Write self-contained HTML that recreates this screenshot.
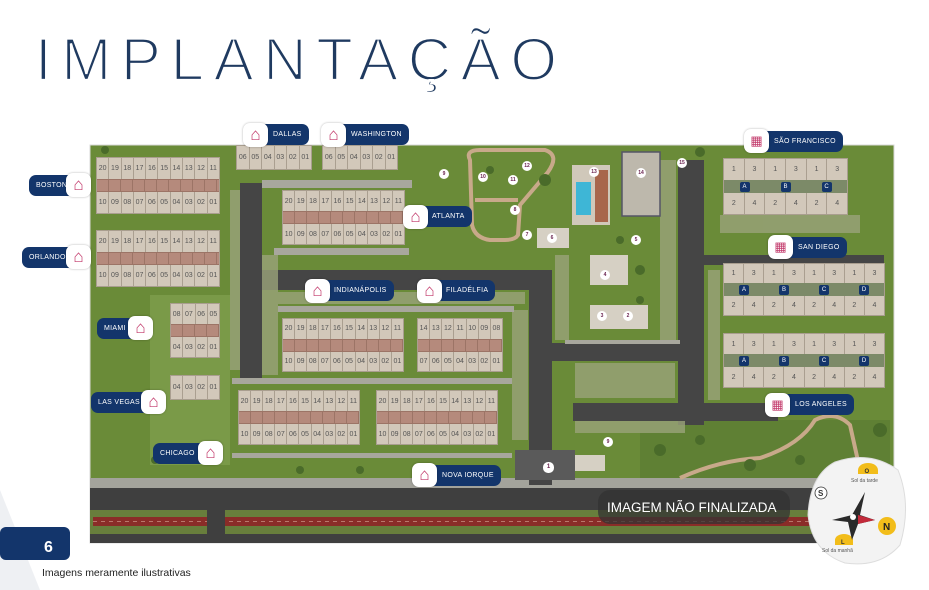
<!DOCTYPE html><html><head><meta charset="utf-8"><style>
*{margin:0;padding:0;box-sizing:border-box}
body{width:929px;height:590px;background:#fff;position:relative;overflow:hidden;font-family:"Liberation Sans",sans-serif}
.a{position:absolute}
.b{position:absolute;background:#d2c8ba;display:flex;flex-direction:column;border:1px solid #a99e8f}
.r{display:flex;flex:1}
.r span{flex:1;border-right:1px solid #aa9f90;font-size:7px;color:#555;display:flex;align-items:center;justify-content:center}
.r span:last-child{border-right:none}
.s{height:13px;background:repeating-linear-gradient(90deg,#b58a7c 0 11px,#9c7466 11px 12px);border-top:1px solid #9c7466;border-bottom:1px solid #9c7466}
.g{height:13px;background:#7c8a68;display:flex;justify-content:space-around;align-items:center}
.g i{font-style:normal;background:#13356b;color:#fff;font-size:6px;width:10px;height:10px;display:flex;align-items:center;justify-content:center;border-radius:2px}
.p{position:absolute;background:#13356b;color:#fff;font-size:7px;height:21px;line-height:21px;border-radius:7px;padding:0 7px;letter-spacing:.3px;white-space:nowrap}
.ic{position:absolute;width:25px;height:24px;background:#fff;border-radius:7px;color:#c2386a;font-size:17px;line-height:24px;text-align:center;box-shadow:0 0 2px rgba(0,0,0,.3)}
.n{position:absolute;width:10px;height:10px;border-radius:5px;background:#fff;color:#6a2350;font-size:5px;line-height:10px;text-align:center;font-weight:bold}
</style></head><body>
<svg class="a" style="left:0;top:0" width="929" height="590">
<polygon points="0,490 40,590 0,590" fill="#eef0f3"/>
<text x="35" y="80" font-size="60" fill="#1f3a60" stroke="#fff" stroke-width="2.2" textLength="522" lengthAdjust="spacing" font-family="Liberation Sans">IMPLANTAÇÃO</text>
<rect x="90" y="145" width="804" height="398" fill="#6a8b38"/>
<rect x="90" y="145" width="804" height="398" fill="none" stroke="#d9d9d9"/>
<rect x="150" y="295" width="80" height="170" fill="#7a9a48"/>
<rect x="640" y="420" width="250" height="60" fill="#5f8034"/>
<rect x="90" y="478" width="804" height="10" fill="#a3a39b"/>
<rect x="90" y="488" width="804" height="55" fill="#3f3f3f"/>
<rect x="90" y="510" width="804" height="24" fill="#687e3c"/>
<rect x="93" y="517" width="114" height="9" fill="#8a2c28"/>
<rect x="225" y="517" width="585" height="9" fill="#8a2c28"/>
<line x1="93" y1="521.5" x2="810" y2="521.5" stroke="#e7c2b0" stroke-width="0.6" stroke-dasharray="4 4"/>
<rect x="207" y="510" width="18" height="24" fill="#3f3f3f"/>
<rect x="240" y="183" width="22" height="195" fill="#454545"/>
<rect x="240" y="270" width="312" height="20" fill="#454545"/>
<rect x="529" y="270" width="23" height="215" fill="#454545"/>
<rect x="552" y="343" width="150" height="18" fill="#454545"/>
<rect x="678" y="160" width="26" height="265" fill="#454545"/>
<rect x="573" y="403" width="205" height="18" fill="#454545"/>
<rect x="704" y="255" width="180" height="10" fill="#454545"/>
<rect x="515" y="450" width="60" height="30" fill="#5a5a5a"/>
<g fill="#9aa37a" opacity=".8">
<rect x="262" y="255" width="16" height="120"/><rect x="265" y="292" width="260" height="12"/>
<rect x="512" y="310" width="16" height="130"/><rect x="555" y="255" width="14" height="85"/>
<rect x="575" y="363" width="100" height="35"/><rect x="660" y="160" width="16" height="180"/>
<rect x="708" y="270" width="12" height="130"/><rect x="720" y="215" width="140" height="18"/>
<rect x="575" y="421" width="110" height="12"/><rect x="230" y="190" width="10" height="180"/>
</g>
<g fill="#a8a79d">
<rect x="262" y="180" width="150" height="8"/><rect x="274" y="248" width="135" height="7"/>
<rect x="278" y="306" width="236" height="6"/><rect x="232" y="378" width="280" height="6"/>
<rect x="232" y="453" width="280" height="5"/><rect x="565" y="340" width="115" height="4"/>
</g>
<path d="M470 160 Q465 150 480 150 L545 150 Q560 155 548 172 L520 205 L518 235 Q515 240 505 240 L490 240 Q475 238 472 225 L470 160 Z" fill="none" stroke="#c8a98a" stroke-width="4"/>
<line x1="475" y1="200" x2="518" y2="200" stroke="#c8a98a" stroke-width="4"/>
<path d="M680 478 Q720 460 760 458 Q800 445 815 420 Q835 410 850 425 L860 470" fill="none" stroke="#c8a98a" stroke-width="4"/>
<rect x="572" y="165" width="38" height="60" fill="#d0c8ba"/><rect x="576" y="182" width="15" height="33" fill="#3eb6d6"/><rect x="595" y="170" width="13" height="52" fill="#a8664c"/>
<rect x="622" y="152" width="38" height="64" fill="#bdb8ac" stroke="#556" stroke-width="1.5"/>
<rect x="537" y="228" width="32" height="20" fill="#d6d0c4"/>
<rect x="590" y="255" width="38" height="30" fill="#d6d0c4"/>
<rect x="590" y="305" width="58" height="24" fill="#d6d0c4"/>
<rect x="575" y="455" width="30" height="16" fill="#d6d0c4"/>
<g fill="#4a6b2a">
<circle cx="105" cy="150" r="4"/><circle cx="700" cy="152" r="5"/><circle cx="860" cy="360" r="5"/><circle cx="880" cy="430" r="7"/>
<circle cx="750" cy="465" r="6"/><circle cx="800" cy="460" r="5"/><circle cx="660" cy="450" r="6"/><circle cx="700" cy="440" r="5"/>
<circle cx="620" cy="240" r="4"/><circle cx="640" cy="270" r="5"/><circle cx="640" cy="300" r="4"/><circle cx="545" cy="180" r="6"/>
<circle cx="490" cy="170" r="4"/><circle cx="155" cy="460" r="4"/><circle cx="300" cy="470" r="4"/><circle cx="360" cy="470" r="4"/>
</g>
<rect x="598" y="490" width="192" height="34" rx="12" fill="#333" opacity=".75"/>
<text x="607" y="512" font-size="13.5" fill="#fff" font-family="Liberation Sans">IMAGEM NÃO FINALIZADA</text>
<path d="M835 462 Q870 450 898 470 Q912 505 900 545 Q880 568 845 563 Q812 552 808 515 Q810 475 835 462 Z" fill="#f3f3f3" stroke="#ddd"/>
<path d="M858 470 A10 7 0 0 1 878 470 L878 474 L858 474 Z" fill="#f2bd1a"/><text x="864.5" y="473" font-size="6" font-weight="bold" fill="#333">O</text>
<text x="851" y="482" font-size="5" fill="#555">Sol da tarde</text>
<circle cx="821" cy="493" r="6" fill="#fff" stroke="#333" stroke-width=".8"/><text x="818" y="496" font-size="8" font-weight="bold" fill="#333">S</text>
<circle cx="887" cy="526" r="9" fill="#f2bd1a"/><text x="883" y="530" font-size="10" font-weight="bold" fill="#222">N</text>
<path d="M835 540 A9 6 0 0 1 853 540 L853 545 L835 545 Z" fill="#f2bd1a"/><text x="841" y="544" font-size="6" font-weight="bold" fill="#333">L</text>
<text x="822" y="552" font-size="5" fill="#555">Sol da manhã</text>
<polygon points="852,515 865,492 860,515 875,520 858,524 852,540 848,522 832,520" fill="#2a2a2a"/>
<polygon points="858,515 875,520 858,524" fill="#c22a3a"/>
<circle cx="853" cy="517" r="3" fill="#fff"/>
<rect x="0" y="527" width="70" height="33" rx="6" fill="#13356b"/>
<text x="44" y="552" font-size="16" font-weight="bold" fill="#fff">6</text>
<text x="42" y="576" font-size="10.5" fill="#222">Imagens meramente ilustrativas</text>
</svg>

<div class="b" style="left:96px;top:157px;width:124px;height:57px"><div class="r"><span>20</span><span>19</span><span>18</span><span>17</span><span>16</span><span>15</span><span>14</span><span>13</span><span>12</span><span>11</span></div><div class="s"></div><div class="r"><span>10</span><span>09</span><span>08</span><span>07</span><span>06</span><span>05</span><span>04</span><span>03</span><span>02</span><span>01</span></div></div>
<div class="b" style="left:96px;top:230px;width:124px;height:57px"><div class="r"><span>20</span><span>19</span><span>18</span><span>17</span><span>16</span><span>15</span><span>14</span><span>13</span><span>12</span><span>11</span></div><div class="s"></div><div class="r"><span>10</span><span>09</span><span>08</span><span>07</span><span>06</span><span>05</span><span>04</span><span>03</span><span>02</span><span>01</span></div></div>
<div class="b" style="left:236px;top:145px;width:76px;height:25px"><div class="r"><span>06</span><span>05</span><span>04</span><span>03</span><span>02</span><span>01</span></div></div>
<div class="b" style="left:322px;top:145px;width:76px;height:25px"><div class="r"><span>06</span><span>05</span><span>04</span><span>03</span><span>02</span><span>01</span></div></div>
<div class="b" style="left:282px;top:190px;width:123px;height:55px"><div class="r"><span>20</span><span>19</span><span>18</span><span>17</span><span>16</span><span>15</span><span>14</span><span>13</span><span>12</span><span>11</span></div><div class="s"></div><div class="r"><span>10</span><span>09</span><span>08</span><span>07</span><span>06</span><span>05</span><span>04</span><span>03</span><span>02</span><span>01</span></div></div>
<div class="b" style="left:170px;top:303px;width:50px;height:55px"><div class="r"><span>08</span><span>07</span><span>06</span><span>05</span></div><div class="s"></div><div class="r"><span>04</span><span>03</span><span>02</span><span>01</span></div></div>
<div class="b" style="left:170px;top:375px;width:50px;height:25px"><div class="r"><span>04</span><span>03</span><span>02</span><span>01</span></div></div>
<div class="b" style="left:282px;top:318px;width:122px;height:54px"><div class="r"><span>20</span><span>19</span><span>18</span><span>17</span><span>16</span><span>15</span><span>14</span><span>13</span><span>12</span><span>11</span></div><div class="s"></div><div class="r"><span>10</span><span>09</span><span>08</span><span>07</span><span>06</span><span>05</span><span>04</span><span>03</span><span>02</span><span>01</span></div></div>
<div class="b" style="left:417px;top:318px;width:86px;height:54px"><div class="r"><span>14</span><span>13</span><span>12</span><span>11</span><span>10</span><span>09</span><span>08</span></div><div class="s"></div><div class="r"><span>07</span><span>06</span><span>05</span><span>04</span><span>03</span><span>02</span><span>01</span></div></div>
<div class="b" style="left:238px;top:390px;width:122px;height:55px"><div class="r"><span>20</span><span>19</span><span>18</span><span>17</span><span>16</span><span>15</span><span>14</span><span>13</span><span>12</span><span>11</span></div><div class="s"></div><div class="r"><span>10</span><span>09</span><span>08</span><span>07</span><span>06</span><span>05</span><span>04</span><span>03</span><span>02</span><span>01</span></div></div>
<div class="b" style="left:376px;top:390px;width:122px;height:55px"><div class="r"><span>20</span><span>19</span><span>18</span><span>17</span><span>16</span><span>15</span><span>14</span><span>13</span><span>12</span><span>11</span></div><div class="s"></div><div class="r"><span>10</span><span>09</span><span>08</span><span>07</span><span>06</span><span>05</span><span>04</span><span>03</span><span>02</span><span>01</span></div></div>
<div class="b" style="left:723px;top:158px;width:125px;height:57px"><div class="r"><span>1</span><span>3</span><span>1</span><span>3</span><span>1</span><span>3</span></div><div class="g"><i>A</i><i>B</i><i>C</i></div><div class="r"><span>2</span><span>4</span><span>2</span><span>4</span><span>2</span><span>4</span></div></div>
<div class="b" style="left:723px;top:263px;width:162px;height:53px"><div class="r"><span>1</span><span>3</span><span>1</span><span>3</span><span>1</span><span>3</span><span>1</span><span>3</span></div><div class="g"><i>A</i><i>B</i><i>C</i><i>D</i></div><div class="r"><span>2</span><span>4</span><span>2</span><span>4</span><span>2</span><span>4</span><span>2</span><span>4</span></div></div>
<div class="b" style="left:723px;top:333px;width:162px;height:55px"><div class="r"><span>1</span><span>3</span><span>1</span><span>3</span><span>1</span><span>3</span><span>1</span><span>3</span></div><div class="g"><i>A</i><i>B</i><i>C</i><i>D</i></div><div class="r"><span>2</span><span>4</span><span>2</span><span>4</span><span>2</span><span>4</span><span>2</span><span>4</span></div></div>

<div class="p" style="left:29px;top:175px;padding-right:12px">BOSTON</div><div class="ic" style="left:66px;top:173px">⌂</div>
<div class="p" style="left:22px;top:247px;padding-right:14px">ORLANDO</div><div class="ic" style="left:66px;top:245px">⌂</div>
<div class="p" style="left:258px;top:124px;padding-left:15px">DALLAS</div><div class="ic" style="left:243px;top:123px">⌂</div>
<div class="p" style="left:337px;top:124px;padding-left:14px">WASHINGTON</div><div class="ic" style="left:321px;top:123px">⌂</div>
<div class="p" style="left:418px;top:206px;padding-left:14px">ATLANTA</div><div class="ic" style="left:403px;top:205px">⌂</div>
<div class="p" style="left:320px;top:280px;padding-left:14px">INDIANÁPOLIS</div><div class="ic" style="left:305px;top:279px">⌂</div>
<div class="p" style="left:432px;top:280px;padding-left:14px">FILADÉLFIA</div><div class="ic" style="left:417px;top:279px">⌂</div>
<div class="p" style="left:97px;top:318px;padding-right:12px">MIAMI</div><div class="ic" style="left:128px;top:316px">⌂</div>
<div class="p" style="left:91px;top:392px;padding-right:12px">LAS VEGAS</div><div class="ic" style="left:141px;top:390px">⌂</div>
<div class="p" style="left:153px;top:443px;padding-right:12px">CHICAGO</div><div class="ic" style="left:198px;top:441px">⌂</div>
<div class="p" style="left:428px;top:465px;padding-left:14px">NOVA IORQUE</div><div class="ic" style="left:412px;top:463px">⌂</div>
<div class="p" style="left:760px;top:131px;padding-left:14px">SÃO FRANCISCO</div><div class="ic" style="left:744px;top:129px;font-size:13px">▦</div>
<div class="p" style="left:784px;top:237px;padding-left:14px">SAN DIEGO</div><div class="ic" style="left:768px;top:235px;font-size:13px">▦</div>
<div class="p" style="left:781px;top:394px;padding-left:14px">LOS ANGELES</div><div class="ic" style="left:765px;top:393px;font-size:13px">▦</div>

<div class="n" style="left:439px;top:169px">9</div><div class="n" style="left:478px;top:172px">10</div><div class="n" style="left:508px;top:175px">11</div>
<div class="n" style="left:522px;top:161px">12</div><div class="n" style="left:510px;top:205px">8</div><div class="n" style="left:522px;top:230px">7</div>
<div class="n" style="left:547px;top:233px">6</div><div class="n" style="left:589px;top:167px">13</div><div class="n" style="left:636px;top:168px">14</div>
<div class="n" style="left:677px;top:158px">15</div><div class="n" style="left:631px;top:235px">5</div><div class="n" style="left:600px;top:270px">4</div>
<div class="n" style="left:597px;top:311px">3</div><div class="n" style="left:623px;top:311px">2</div><div class="n" style="left:603px;top:437px">9</div>
<div class="n" style="left:543px;top:462px;width:11px;height:11px;font-size:6px;line-height:11px">1</div>
</body></html>
